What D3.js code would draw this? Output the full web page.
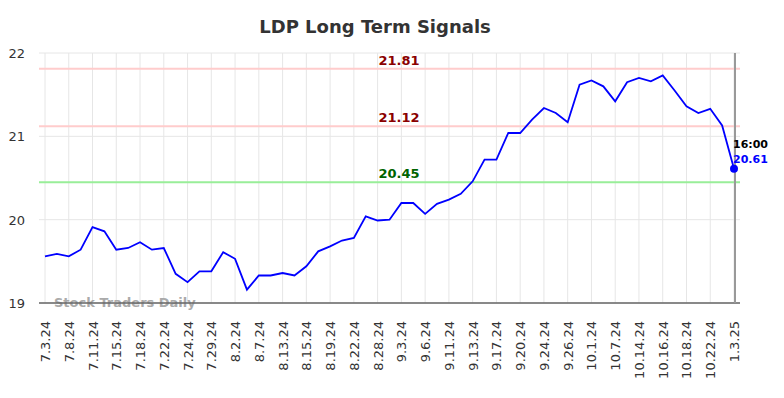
<!DOCTYPE html>
<html>
<head>
<meta charset="utf-8">
<script src="https://cdn.jsdelivr.net/npm/d3@7"></script>
<style>
  body { margin: 0; background: #fff; }
  text { font-family: "DejaVu Sans", sans-serif; }
</style>
</head>
<body>
<div id="chart"></div>
<script>
// tick labels (one every second point)
const tickLabels = ["7.3.24","7.8.24","7.11.24","7.15.24","7.18.24","7.22.24","7.24.24","7.29.24",
  "8.2.24","8.7.24","8.13.24","8.15.24","8.19.24","8.22.24","8.28.24","9.3.24","9.6.24",
  "9.11.24","9.13.24","9.17.24","9.20.24","9.24.24","9.26.24","10.1.24","10.7.24",
  "10.14.24","10.16.24","10.18.24","10.22.24","1.3.25"];

// closing prices
const prices = [19.56,19.59,19.56,19.64,19.91,19.86,19.64,19.66,19.73,19.64,
  19.66,19.35,19.25,19.38,19.38,19.61,19.53,19.16,19.33,19.33,
  19.36,19.33,19.44,19.62,19.68,19.75,19.78,20.04,19.99,20.00,
  20.20,20.20,20.07,20.19,20.24,20.31,20.46,20.72,20.72,21.04,
  21.04,21.20,21.34,21.28,21.17,21.62,21.67,21.60,21.42,21.65,
  21.70,21.66,21.73,21.55,21.36,21.28,21.33,21.13,20.61];

const signalValues = [21.81, 21.12, 20.45];
const signalLabels = ["21.81", "21.12", "20.45"];
const yTicks = [19, 20, 21, 22];

const width = 784, height = 398;
const margin = {top: 53, right: 44, bottom: 95, left: 39};

const svg = d3.select("#chart").append("svg")
  .attr("width", width)
  .attr("height", height);

const x = d3.scaleLinear()
  .domain([0, prices.length - 1])
  .range([45, 734]);

const y = d3.scaleLinear()
  .domain([19, 22])
  .range([height - margin.bottom, margin.top]);

const x0 = margin.left, x1 = width - margin.right;

// title
svg.append("text")
  .attr("x", 375)
  .attr("y", 33)
  .attr("text-anchor", "middle")
  .attr("font-size", "18px")
  .attr("font-weight", "bold")
  .attr("fill", "#333")
  .text("LDP Long Term Signals");

// horizontal grid
svg.selectAll(".hgrid")
  .data(yTicks)
  .enter()
  .append("line")
  .attr("x1", x0).attr("x2", x1)
  .attr("y1", d => y(d)).attr("y2", d => y(d))
  .attr("stroke", "#e6e6e6")
  .attr("stroke-width", 1);

// vertical grid
svg.selectAll(".vgrid")
  .data(tickLabels)
  .enter()
  .append("line")
  .attr("x1", (d, i) => x(i * 2)).attr("x2", (d, i) => x(i * 2))
  .attr("y1", y(22)).attr("y2", y(19))
  .attr("stroke", "#e6e6e6")
  .attr("stroke-width", 1);

// y labels
svg.selectAll(".ylab")
  .data(yTicks)
  .enter()
  .append("text")
  .attr("x", 25)
  .attr("y", d => y(d) + 5)
  .attr("text-anchor", "end")
  .attr("font-size", "13px")
  .attr("fill", "#333")
  .text(d => d);

// x labels
svg.selectAll(".xlab")
  .data(tickLabels)
  .enter()
  .append("text")
  .attr("transform", (d, i) => `translate(${x(i * 2) + 5},${y(19) + 18}) rotate(-90)`)
  .attr("text-anchor", "end")
  .attr("font-size", "13px")
  .attr("fill", "#333")
  .text(d => d);

// signal lines
const sigColor = ["#ffcccc", "#ffcccc", "#99ee99"];
const sigText = ["#8b0000", "#8b0000", "#006400"];
svg.selectAll(".sig")
  .data(signalValues)
  .enter()
  .append("line")
  .attr("x1", x0).attr("x2", x1)
  .attr("y1", d => y(d)).attr("y2", d => y(d))
  .attr("stroke", (d, i) => sigColor[i])
  .attr("stroke-width", 2);

svg.selectAll(".siglab")
  .data(signalValues)
  .enter()
  .append("text")
  .attr("x", 399)
  .attr("y", d => y(d) - 4)
  .attr("text-anchor", "middle")
  .attr("font-size", "13px")
  .attr("font-weight", "bold")
  .attr("fill", (d, i) => sigText[i])
  .text((d, i) => signalLabels[i]);

// watermark
svg.append("text")
  .attr("x", 54)
  .attr("y", y(19) + 4)
  .attr("font-size", "13px")
  .attr("font-weight", "bold")
  .attr("fill", "#aaa")
  .text("Stock Traders Daily");

// x axis line
svg.append("line")
  .attr("x1", x0).attr("x2", x1)
  .attr("y1", y(19)).attr("y2", y(19))
  .attr("stroke", "#666")
  .attr("stroke-width", 1.5);

// right marker line
svg.append("line")
  .attr("x1", x(prices.length - 1) + 1).attr("x2", x(prices.length - 1) + 1)
  .attr("y1", y(22)).attr("y2", y(19))
  .attr("stroke", "#999")
  .attr("stroke-width", 2);

// price line
const line = d3.line()
  .x((d, i) => x(i))
  .y(d => y(d));

svg.append("path")
  .datum(prices)
  .attr("fill", "none")
  .attr("stroke", "blue")
  .attr("stroke-width", 1.8)
  .attr("d", line);

const last = prices[prices.length - 1];
svg.append("circle")
  .attr("cx", x(prices.length - 1))
  .attr("cy", y(last))
  .attr("r", 4)
  .attr("fill", "blue");

svg.append("text")
  .attr("x", x(prices.length - 1) - 1)
  .attr("y", y(last) - 21)
  .attr("font-size", "11px")
  .attr("font-weight", "bold")
  .attr("fill", "#000")
  .text("16:00");

svg.append("text")
  .attr("x", x(prices.length - 1) - 1)
  .attr("y", y(last) - 6)
  .attr("font-size", "11px")
  .attr("font-weight", "bold")
  .attr("fill", "blue")
  .text(last.toFixed(2));
</script>
</body>
</html>
